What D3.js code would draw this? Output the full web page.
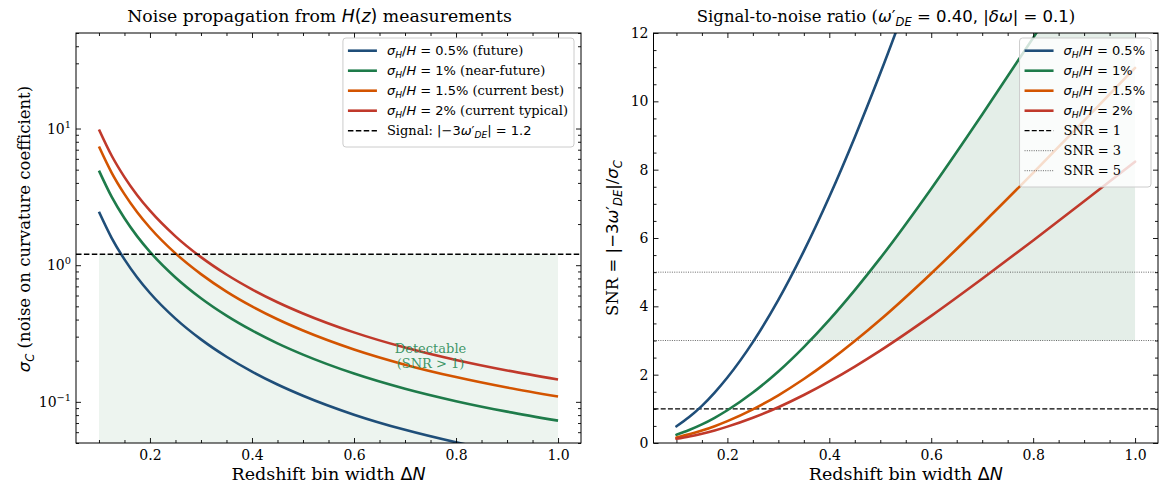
<!DOCTYPE html>
<html>
<head>
<meta charset="utf-8">
<script src="https://cdn.jsdelivr.net/npm/d3@7"></script>
<style>
body { margin: 0; background: #fff; }
</style>
</head>
<body>
<svg id="chart" width="1163" height="484"></svg>
<script>
var binWidth = [0.1, 0.125, 0.15, 0.175, 0.2, 0.25, 0.3, 0.35, 0.4, 0.45, 0.5, 0.6, 0.7, 0.8, 0.9, 1.0];

// sigma_C, left panel
var sigma05 = [2.46, 1.58, 1.1025, 0.813, 0.626, 0.4065, 0.2865, 0.2138, 0.1665, 0.134, 0.1109, 0.0806, 0.0624, 0.0506, 0.0424, 0.0364];
var sigma10 = [4.92, 3.16, 2.205, 1.626, 1.2525, 0.813, 0.573, 0.4275, 0.333, 0.268, 0.2218, 0.1612, 0.1248, 0.1012, 0.0848, 0.0729];
var sigma15 = [7.38, 4.74, 3.31, 2.44, 1.879, 1.22, 0.860, 0.641, 0.4995, 0.402, 0.3327, 0.2418, 0.1872, 0.1518, 0.1272, 0.1093];
var sigma20 = [9.84, 6.32, 4.41, 3.25, 2.505, 1.626, 1.146, 0.855, 0.666, 0.536, 0.4436, 0.3224, 0.2496, 0.2024, 0.1696, 0.1457];

// SNR, right panel
var snr05 = [0.488, 0.760, 1.088, 1.476, 1.916, 2.952, 4.188, 5.616, 7.208, 8.952, 10.82, 14.888, 19.232, 23.716, 28.3, 32.936];
var snr10 = [0.244, 0.380, 0.544, 0.738, 0.958, 1.476, 2.094, 2.808, 3.604, 4.476, 5.41, 7.444, 9.616, 11.858, 14.15, 16.468];
var snr15 = [0.163, 0.253, 0.363, 0.492, 0.639, 0.984, 1.396, 1.872, 2.403, 2.984, 3.607, 4.963, 6.411, 7.905, 9.433, 10.979];
var snr20 = [0.122, 0.190, 0.272, 0.369, 0.479, 0.738, 1.047, 1.404, 1.802, 2.238, 2.705, 3.722, 4.808, 5.929, 7.075, 8.234];

var precision = ["0.5%", "1%", "1.5%", "2%"];
var notes = ["future", "near-future", "current best", "current typical"];
var colors = ["#1f4e79", "#1e7b4a", "#d35400", "#c0392b"];

var signal = 1.2;
var snrLevels = [1, 3, 5];

var xTicks = [0.2, 0.4, 0.6, 0.8, 1.0];
var logTicks = [0.1, 1, 10];
var logTickExp = ["\u22121", "0", "1"];
var snrTicks = [0, 2, 4, 6, 8, 10, 12];

var SERIF = "'DejaVu Serif', serif";
var SANS = "'DejaVu Sans', sans-serif";

var svg = d3.select("#chart");

// mixed serif / math text
function rich(t, parts, fs) {
    var shift = 0;
    parts.forEach(function (p) {
        var k = p[1];
        var ts = t.append("tspan").text(p[0]);
        ts.attr("font-family", (k === "r" || k === "sup") ? SERIF : SANS);
        if (k === "i" || k === "sub") ts.attr("font-style", "italic");
        var target = 0;
        if (k === "sub") { target = 0.22 * fs; ts.attr("font-size", 0.7 * fs); }
        if (k === "sup") { target = -0.42 * fs; ts.attr("font-size", 0.7 * fs); }
        if (target !== shift) { ts.attr("dy", target - shift); shift = target; }
    });
    return t;
}

function sigmaH() {
    return [["\u03c3", "i"], ["H", "sub"], ["/", "m"], ["H", "i"]];
}

var plotTop = 33, plotBottom = 443;
var panels = [
    {x0: 76, x1: 581},
    {x0: 653.5, x1: 1158}
];

function minorRange(a, b, s) {
    var out = [];
    for (var v = a; v <= b + 1e-9; v += s) out.push(+v.toFixed(4));
    return out;
}

function drawAxes(g, x, y, yMajor, yMinor, yFormat, w, h) {
    var xMinor = minorRange(0.1, 1.0, 0.05).filter(function (v) { return xTicks.indexOf(v) < 0; });

    function style(a) {
        a.select(".domain").remove();
        a.selectAll("line").attr("stroke", "#000").attr("stroke-width", 0.9);
        a.selectAll("text").attr("font-family", SERIF).attr("font-size", 14).attr("fill", "#000");
    }

    g.append("g").attr("transform", "translate(0," + h + ")")
        .call(d3.axisBottom(x).tickValues(xTicks).tickSize(-5).tickPadding(7).tickFormat(d3.format(".1f")))
        .call(style);
    g.append("g").attr("transform", "translate(0," + h + ")")
        .call(d3.axisBottom(x).tickValues(xMinor).tickSize(-3).tickFormat(""))
        .call(style);
    g.append("g")
        .call(d3.axisTop(x).tickValues(xTicks).tickSize(-5).tickFormat(""))
        .call(style);
    g.append("g")
        .call(d3.axisTop(x).tickValues(xMinor).tickSize(-3).tickFormat(""))
        .call(style);

    g.append("g").attr("class", "yleft")
        .call(d3.axisLeft(y).tickValues(yMajor).tickSize(-5).tickPadding(5).tickFormat(yFormat || ""))
        .call(style);
    g.append("g")
        .call(d3.axisLeft(y).tickValues(yMinor).tickSize(-3).tickFormat(""))
        .call(style);
    g.append("g").attr("transform", "translate(" + w + ",0)")
        .call(d3.axisRight(y).tickValues(yMajor).tickSize(-5).tickFormat(""))
        .call(style);
    g.append("g").attr("transform", "translate(" + w + ",0)")
        .call(d3.axisRight(y).tickValues(yMinor).tickSize(-3).tickFormat(""))
        .call(style);

    g.append("rect")
        .attr("width", w).attr("height", h)
        .attr("fill", "none").attr("stroke", "#000").attr("stroke-width", 1);
}

function drawLegend(g, right, rows) {
    var fs = 13;
    var lg = g.append("g");
    var box = lg.append("rect");
    var maxW = 0;
    rows.forEach(function (r, i) {
        var cy = 12.7 + i * 20;
        lg.append("line")
            .attr("x1", 5).attr("x2", 34).attr("y1", cy).attr("y2", cy)
            .attr("stroke", r.color).attr("stroke-width", r.width)
            .attr("stroke-dasharray", r.dash || null);
        var t = lg.append("text")
            .attr("x", 44).attr("y", cy).attr("dy", "0.35em")
            .attr("font-size", fs).attr("fill", "#000");
        rich(t, r.parts, fs);
        maxW = Math.max(maxW, t.node().getComputedTextLength());
    });
    var bw = 44 + maxW + 6;
    var bh = rows.length * 20 + 9;
    box.attr("width", bw).attr("height", bh)
        .attr("rx", 3)
        .attr("fill", "#fff").attr("fill-opacity", 0.8)
        .attr("stroke", "#cccccc").attr("stroke-width", 1);
    lg.attr("transform", "translate(" + (right - 7 - bw) + ",5)");
}

// ---------- left panel ----------
(function () {
    var p = panels[0];
    var w = p.x1 - p.x0, h = plotBottom - plotTop;
    var g = svg.append("g").attr("transform", "translate(" + p.x0 + "," + plotTop + ")");
    var x = d3.scaleLinear().domain([0.055, 1.045]).range([0, w]);
    var y = d3.scaleLog().domain([0.05, 50]).range([h, 0]);

    g.append("clipPath").attr("id", "clipL")
        .append("rect").attr("width", w).attr("height", h);
    var plot = g.append("g").attr("clip-path", "url(#clipL)");

    plot.append("rect")
        .attr("x", x(binWidth[0]))
        .attr("y", y(signal))
        .attr("width", x(binWidth[binWidth.length - 1]) - x(binWidth[0]))
        .attr("height", h - y(signal))
        .attr("fill", "#edf4ef");

    var series = [sigma05, sigma10, sigma15, sigma20];
    var line = d3.line()
        .x(function (d, i) { return x(binWidth[i]); })
        .y(function (d) { return y(d); })
        .curve(d3.curveMonotoneX);
    series.forEach(function (s, i) {
        plot.append("path").datum(s)
            .attr("d", line)
            .attr("fill", "none")
            .attr("stroke", colors[i])
            .attr("stroke-width", 2.6);
    });

    plot.append("line")
        .attr("x1", 0).attr("x2", w)
        .attr("y1", y(signal)).attr("y2", y(signal))
        .attr("stroke", "#000").attr("stroke-width", 1.5)
        .attr("stroke-dasharray", "5.5,2.4");

    var ann = plot.append("text")
        .attr("x", x(0.75)).attr("y", y(0.22))
        .attr("text-anchor", "middle")
        .attr("font-family", SERIF).attr("font-size", 13)
        .attr("fill", "#2a8a55").attr("fill-opacity", 0.9);
    ann.append("tspan").attr("x", x(0.75)).attr("dy", "-0.15em").text("Detectable");
    ann.append("tspan").attr("x", x(0.75)).attr("dy", "1.15em").text("(SNR > 1)");

    var yMinor = [];
    [0.01, 0.1, 1, 10].forEach(function (dec) {
        for (var m = 2; m <= 9; m++) {
            var v = dec * m;
            if (v >= 0.05 && v <= 50) yMinor.push(v);
        }
    });
    drawAxes(g, x, y, logTicks, yMinor, null, w, h);

    // log tick labels 10^n
    g.select(".yleft").selectAll(".tick").each(function (d) {
        var i = logTicks.indexOf(d);
        var t = d3.select(this).append("text")
            .attr("x", -5).attr("dy", "0.32em")
            .attr("text-anchor", "end")
            .attr("font-size", 14).attr("fill", "#000");
        rich(t, [["10", "r"], [logTickExp[i], "sup"]], 14);
    });

    var rows = precision.map(function (pr, i) {
        return {
            color: colors[i], width: 2.6,
            parts: sigmaH().concat([[" = " + pr, "m"], [" (" + notes[i] + ")", "r"]])
        };
    });
    rows.push({
        color: "#000", width: 1.5, dash: "5.5,2.4",
        parts: [["Signal: ", "r"], ["|\u22123", "m"], ["\u03c9", "i"], ["\u2032", "m"], ["DE", "sub"], ["| = 1.2", "m"]]
    });
    drawLegend(g, w, rows);

    var title = svg.append("text")
        .attr("x", 319.5).attr("y", 22)
        .attr("text-anchor", "middle").attr("font-size", 17.3).attr("fill", "#000");
    rich(title, [["Noise propagation from ", "r"], ["H", "i"], ["(", "m"], ["z", "i"], [")", "m"], [" measurements", "r"]], 17.3);

    var xl = svg.append("text")
        .attr("x", (p.x0 + p.x1) / 2).attr("y", 480)
        .attr("text-anchor", "middle").attr("font-size", 17.5).attr("fill", "#000");
    rich(xl, [["Redshift bin width ", "r"], ["\u0394", "m"], ["N", "i"]], 17.5);

    var yl = svg.append("text")
        .attr("transform", "translate(30,229) rotate(-90)")
        .attr("text-anchor", "middle").attr("font-size", 16.5).attr("fill", "#000");
    rich(yl, [["\u03c3", "i"], ["C", "sub"], [" (noise on curvature coefficient)", "r"]], 16.5);
})();

// ---------- right panel ----------
(function () {
    var p = panels[1];
    var w = p.x1 - p.x0, h = plotBottom - plotTop;
    var g = svg.append("g").attr("transform", "translate(" + p.x0 + "," + plotTop + ")");
    var x = d3.scaleLinear().domain([0.055, 1.045]).range([0, w]);
    var y = d3.scaleLinear().domain([0, 12]).range([h, 0]);

    g.append("clipPath").attr("id", "clipR")
        .append("rect").attr("width", w).attr("height", h);
    var plot = g.append("g").attr("clip-path", "url(#clipR)");

    // shaded zone between SNR = 3 and the 1% curve
    var area = d3.area()
        .x(function (d, i) { return x(binWidth[i]); })
        .y0(y(3))
        .y1(function (d) { return y(Math.max(d, 3)); })
        .curve(d3.curveMonotoneX);
    plot.append("path").datum(snr10)
        .attr("d", area)
        .attr("fill", "#e4eee8");

    snrLevels.forEach(function (v, i) {
        plot.append("line")
            .attr("x1", 0).attr("x2", w)
            .attr("y1", y(v)).attr("y2", y(v))
            .attr("stroke", i === 0 ? "#000" : "#444")
            .attr("stroke-width", i === 0 ? 1.3 : 0.8)
            .attr("stroke-dasharray", i === 0 ? "5,2.2" : "1,1.3");
    });

    var series = [snr05, snr10, snr15, snr20];
    var line = d3.line()
        .x(function (d, i) { return x(binWidth[i]); })
        .y(function (d) { return y(d); })
        .curve(d3.curveMonotoneX);
    series.forEach(function (s, i) {
        plot.append("path").datum(s)
            .attr("d", line)
            .attr("fill", "none")
            .attr("stroke", colors[i])
            .attr("stroke-width", 2.6)
            .attr("stroke-linecap", "round");
    });

    drawAxes(g, x, y, snrTicks, minorRange(0.5, 11.5, 0.5).filter(function (v) { return v % 2 !== 0; }), d3.format("d"), w, h);

    var rows = precision.map(function (pr, i) {
        return { color: colors[i], width: 2.6, parts: sigmaH().concat([[" = " + pr, "m"]]) };
    });
    snrLevels.forEach(function (v, i) {
        rows.push({
            color: i === 0 ? "#000" : "#444", width: i === 0 ? 1.3 : 0.8,
            dash: i === 0 ? "5,2.2" : "1,1.3",
            parts: [["SNR = " + v, "r"]]
        });
    });
    drawLegend(g, w, rows);

    var title = svg.append("text")
        .attr("x", 886).attr("y", 22)
        .attr("text-anchor", "middle").attr("font-size", 16.5).attr("fill", "#000");
    rich(title, [["Signal-to-noise ratio (", "r"], ["\u03c9", "i"], ["\u2032", "m"], ["DE", "sub"],
        [" = 0.40, |", "m"], ["\u03b4\u03c9", "i"], ["| = 0.1", "m"], [")", "r"]], 16.5);

    var xl = svg.append("text")
        .attr("x", (p.x0 + p.x1) / 2).attr("y", 480)
        .attr("text-anchor", "middle").attr("font-size", 17.5).attr("fill", "#000");
    rich(xl, [["Redshift bin width ", "r"], ["\u0394", "m"], ["N", "i"]], 17.5);

    var yl = svg.append("text")
        .attr("transform", "translate(618," + (plotTop + h / 2) + ") rotate(-90)")
        .attr("text-anchor", "middle").attr("font-size", 16.5).attr("fill", "#000");
    rich(yl, [["SNR = ", "r"], ["|\u22123", "m"], ["\u03c9", "i"], ["\u2032", "m"], ["DE", "sub"],
        ["|/", "m"], ["\u03c3", "i"], ["C", "sub"]], 16.5);
})();
</script>
</body>
</html>
